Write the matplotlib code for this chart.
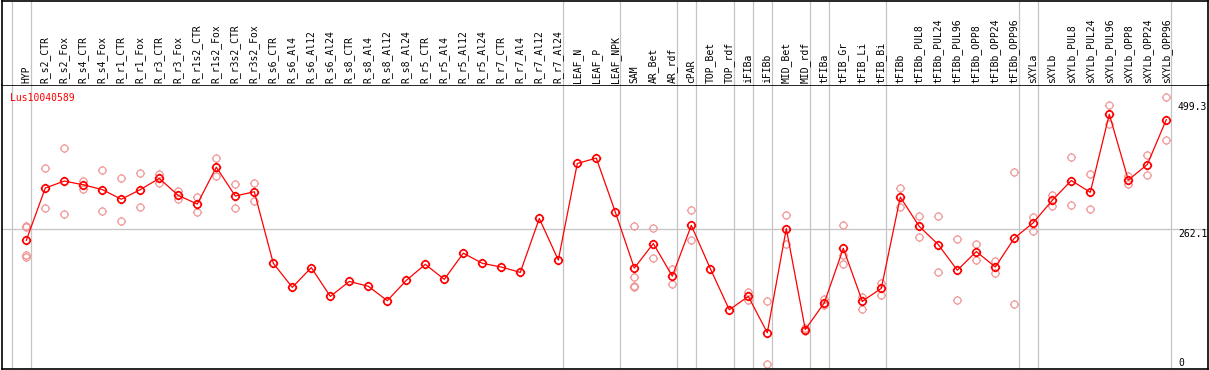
import matplotlib
matplotlib.use("Agg")
import matplotlib.pyplot as plt
from matplotlib.path import Path

categories = ["HYP", "R_s2_CTR", "R_s2_Fox", "R_s4_CTR", "R_s4_Fox", "R_r1_CTR", "R_r1_Fox",
              "R_r3_CTR", "R_r3_Fox", "R_r1s2_CTR", "R_r1s2_Fox", "R_r3s2_CTR", "R_r3s2_Fox",
              "R_s6_CTR", "R_s6_Al4", "R_s6_Al12", "R_s6_Al24", "R_s8_CTR", "R_s8_Al4",
              "R_s8_Al12", "R_s8_Al24", "R_r5_CTR", "R_r5_Al4", "R_r5_Al12", "R_r5_Al24",
              "R_r7_CTR", "R_r7_Al4", "R_r7_Al12", "R_r7_Al24", "LEAF_N", "LEAF_P", "LEAF_NPK",
              "SAM", "AR_Bet", "AR_rdf", "cPAR", "TOP_Bet", "TOP_rdf", "iFIBa", "iFIBb",
              "MID_Bet", "MID_rdf", "tFIBa", "tFIB_Gr", "tFIB_Li", "tFIB_Bi", "tFIBb",
              "tFIBb_PUL8", "tFIBb_PUL24", "tFIBb_PUL96", "tFIBb_OPP8", "tFIBb_OPP24",
              "tFIBb_OPP96", "sXYLa", "sXYLb", "sXYLb_PUL8", "sXYLb_PUL24", "sXYLb_PUL96",
              "sXYLb_OPP8", "sXYLb_OPP24", "sXYLb_OPP96"]

means = [240, 338, 351, 344, 335, 317, 335, 356, 324, 308, 377, 323, 331,
         197, 152, 189, 135, 163, 154, 127, 165, 195, 167, 216, 197, 190, 180, 281, 203,
         384, 394, 293, 188, 234, 173, 268, 187, 110, 135, 67, 262, 73, 123, 225, 126, 150,
         321, 266, 232, 184, 219, 190, 244, 273, 315, 352, 330, 476, 353, 382, 466]

replicates = [
    [267, 265, 213, 209], [375, 300], [413, 289], [352, 337], [372, 295], [357, 276],
    [366, 302], [365, 348], [333, 318], [321, 294], [395, 361], [345, 301], [348, 313],
    [], [], [], [], [], [], [], [], [], [], [], [], [], [], [], [],
    [], [], [],
    [266, 171, 155, 153], [263, 206], [186, 159], [296, 241], [], [],
    [144, 128], [127, 9], [287, 234], [76, 70], [130, 118], [268, 212, 196], [134, 112],
    [160, 137], [338, 302], [286, 246], [286, 180], [243, 128], [234, 204], [201, 178],
    [368, 120], [284, 257], [324, 305], [396, 306], [364, 299], [493, 458], [361, 345],
    [400, 363], [508, 427],
]

group_ends = [-1, 0, 28, 31, 34, 35, 37, 38, 39, 41, 42, 45, 52, 53, 60]
right_labels = [499.3, 262.1]

W, H = 1209, 370
fig = plt.figure(figsize=(W / 100, H / 100), dpi=100)
plt.rcParams['font.family'] = ['DejaVu Sans Mono']

ax_l, ax_r = 1.5, 1207.5
ax_top, ax_bot = 85.0, 368.5
ax = fig.add_axes([ax_l / W, (H - ax_bot) / H, (ax_r - ax_l) / W, (ax_bot - ax_top) / H])
hx = fig.add_axes([ax_l / W, (H - ax_top) / H, (ax_r - ax_l) / W, (ax_top - 0.5) / H])

xmin = -(26.3 - ax_l) / 19.0
xmax = xmin + (ax_r - ax_l) / 19.0
ymax = (ax_bot - ax_top) / 0.534

for a in (ax, hx):
    a.set_xlim(xmin, xmax)
    a.set_xticks([])
    a.set_yticks([])
    for s in a.spines.values():
        s.set_color('black')
        s.set_linewidth(1.2)
ax.set_ylim(0, ymax)
hx.set_ylim(0, 1)
hx.spines['bottom'].set_visible(False)

gc = '#c4c4c4'
for g in group_ends:
    ax.axvline(g + 0.23, color=gc, lw=0.9, zorder=0)
    hx.axvline(g + 0.23, color=gc, lw=0.9, zorder=0)
ax.axhline(262.1, color=gc, lw=0.9, zorder=0)

# custom marker: circle with small ticks
circ = Path.unit_circle()
ticks = Path([(0, 1), (0, 1.3), (0, -1), (0, -1.3), (1, 0), (1.3, 0), (-1, 0), (-1.3, 0)],
             [Path.MOVETO, Path.LINETO] * 4)
mk = Path.make_compound_path(circ, ticks)

xs = list(range(len(categories)))
for i, reps in enumerate(replicates):
    if reps:
        ax.plot([i] * len(reps), reps, linestyle='none', marker=mk, markersize=6.6,
                fillstyle='none', markeredgecolor='#f09898', markeredgewidth=0.9, zorder=2)

ax.plot(xs, means, color='#ff0000', lw=0.9, zorder=3)
ax.plot(xs, means, linestyle='none', marker=mk, markersize=6.8, fillstyle='none',
        markeredgecolor='#ff0000', markeredgewidth=1.2, zorder=4)

for i, c in enumerate(categories):
    hx.text(i, 2.0 / 84.5, c, rotation=90, ha='center', va='bottom', fontsize=7,
            color='black')

ax.text((10 - ax_l) / (ax_r - ax_l), 1 - 12.7 / (ax_bot - ax_top), "Lus10040589",
        transform=ax.transAxes, ha='left', va='center', fontsize=7, color='#ff0000')

xr = (1178 - ax_l) / (ax_r - ax_l)
for v in right_labels:
    ax.text(xr, v, f"{v}", transform=ax.get_yaxis_transform(), ha='left', va='top',
            fontsize=7, color='black')
ax.text(xr, (ax_bot - 362.7) / (ax_bot - ax_top), "0", transform=ax.transAxes,
        ha='left', va='center', fontsize=7, color='black')

fig.savefig("out.png", dpi=100)
